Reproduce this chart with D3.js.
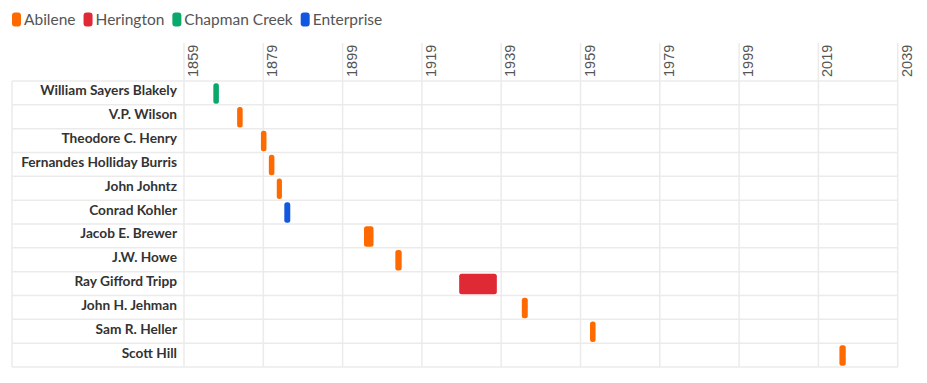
<!DOCTYPE html>
<html>
<head>
<meta charset="utf-8">
<script src="https://cdn.jsdelivr.net/npm/d3@7"></script>
<style>
  body { margin: 0; background: #fff; }
</style>
</head>
<body>
<div id="chart"></div>
<script>
const names = ["William Sayers Blakely", "V.P. Wilson", "Theodore C. Henry", "Fernandes Holliday Burris",
  "John Johntz", "Conrad Kohler", "Jacob E. Brewer", "J.W. Howe", "Ray Gifford Tripp",
  "John H. Jehman", "Sam R. Heller", "Scott Hill"];
const towns = ["Chapman Creek", "Abilene", "Abilene", "Abilene", "Abilene", "Enterprise",
  "Abilene", "Abilene", "Herington", "Abilene", "Abilene", "Abilene"];
const starts = [1866.4, 1872.4, 1878.4, 1880.4, 1882.4, 1884.3, 1904.4, 1912.3, 1928.4, 1944.2, 1961.4, 2024.3];
const ends = [1867.8, 1873.8, 1879.8, 1881.8, 1883.7, 1885.8, 1906.8, 1913.9, 1937.9, 1945.7, 1962.8, 2025.9];

const legendTowns = ["Abilene", "Herington", "Chapman Creek", "Enterprise"];
const townColors = ["#ff6a00", "#df2a36", "#0aa86a", "#1257e0"];
const tickYears = [1859, 1879, 1899, 1919, 1939, 1959, 1979, 1999, 2019, 2039];

const width = 927;
const height = 383;

const x = d3.scaleLinear()
    .domain([1859, 2039])
    .range([184, 897.7]);

const y = d3.scaleBand()
    .domain(names)
    .range([81, 367]);

const color = d3.scaleOrdinal()
    .domain(legendTowns)
    .range(townColors);

const svg = d3.select("#chart").append("svg")
    .attr("width", width)
    .attr("height", height);

// legend
const legend = svg.append("g");
let lx = 12;
legendTowns.forEach(t => {
    legend.append("rect")
        .attr("x", lx)
        .attr("y", 12.5)
        .attr("width", 9)
        .attr("height", 14)
        .attr("rx", 3)
        .attr("fill", color(t));
    const txt = legend.append("text")
        .attr("x", lx + 12)
        .attr("y", 25)
        .attr("font-family", "Lato, sans-serif")
        .attr("font-size", 15.5)
        .attr("fill", "#555")
        .text(t);
    lx += 12 + txt.node().getComputedTextLength() + 8;
});

// grid
const grid = svg.append("g")
    .attr("stroke", "#ebebeb")
    .attr("stroke-width", 1.5);

grid.selectAll("line.h")
    .data(names.map(n => y(n)).concat([y.range()[1]]))
    .enter().append("line")
    .attr("x1", 12)
    .attr("x2", x.range()[1])
    .attr("y1", d => d)
    .attr("y2", d => d);

grid.append("line")
    .attr("x1", 12)
    .attr("x2", 12)
    .attr("y1", y.range()[0])
    .attr("y2", y.range()[1]);

grid.selectAll("line.v")
    .data(tickYears)
    .enter().append("line")
    .attr("x1", d => x(d))
    .attr("x2", d => x(d))
    .attr("y1", 43)
    .attr("y2", y.range()[1]);

// tick labels
svg.append("g")
    .selectAll("text")
    .data(tickYears)
    .enter().append("text")
    .attr("transform", d => `translate(${x(d) + 14},77) rotate(-90)`)
    .attr("font-family", "'Liberation Sans', Arial, sans-serif")
    .attr("font-size", 14.5)
    .attr("fill", "#555")
    .text(d => d);

// row labels
svg.append("g")
    .selectAll("text")
    .data(names)
    .enter().append("text")
    .attr("x", 177)
    .attr("y", d => y(d) + y.bandwidth() / 2 + 2.5)
    .attr("text-anchor", "end")
    .attr("font-family", "Lato, sans-serif")
    .attr("font-weight", "bold")
    .attr("font-size", 13.7)
    .attr("fill", "#333")
    .text(d => d);

// bars
svg.append("g")
    .selectAll("rect")
    .data(names)
    .enter().append("rect")
    .attr("x", (d, i) => x(starts[i]))
    .attr("width", (d, i) => x(ends[i]) - x(starts[i]))
    .attr("y", d => y(d) + 2.2)
    .attr("height", y.bandwidth() - 3.4)
    .attr("rx", 2.5)
    .attr("fill", (d, i) => color(towns[i]));
</script>
</body>
</html>
